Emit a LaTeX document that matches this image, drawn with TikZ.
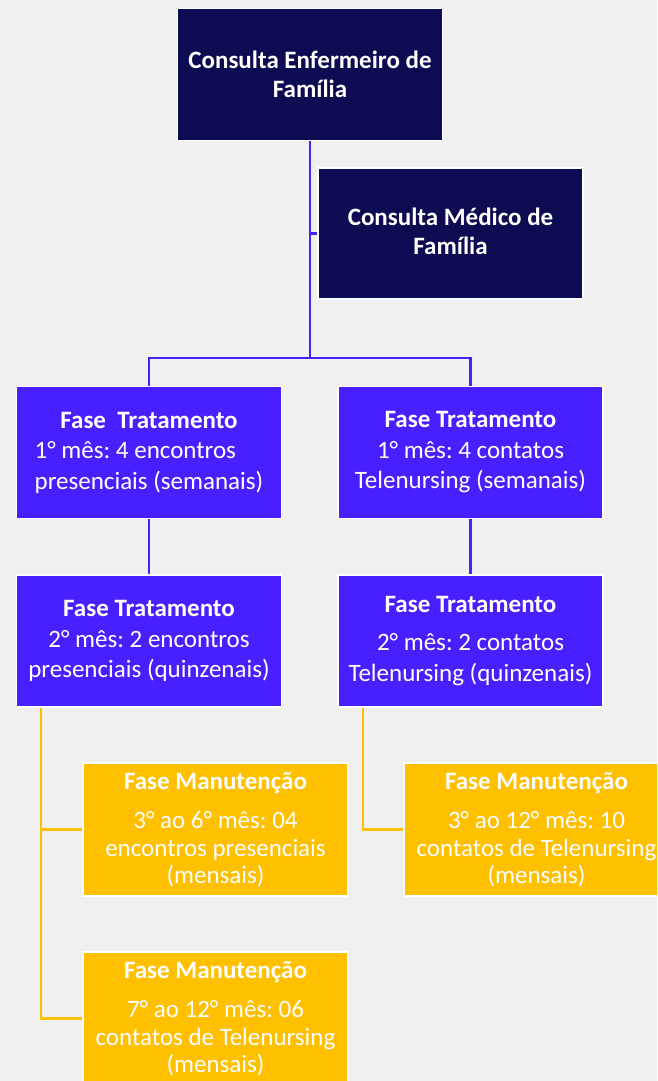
\documentclass[tikz,border=0pt]{standalone}
\usepackage{fontspec}
\setmainfont{Carlito}
\frenchspacing
\definecolor{bgcol}{HTML}{F0F0F0}
\definecolor{navyfill}{HTML}{0D0C52}
\definecolor{fasebl}{HTML}{4A1FFF}
\definecolor{fasegold}{HTML}{FFC000}
\tikzset{
  box/.style={draw=white, line width=1.5pt, text=white, align=center, inner sep=0pt,
    minimum width=265pt, minimum height=132pt},
  topbox/.style={box, fill=navyfill, font=\bfseries\fontsize{25}{29}\selectfont},
  tratbox/.style={box, fill=fasebl, font=\fontsize{25}{30.5}\selectfont},
  manbox/.style={box, fill=fasegold, minimum height=133pt, font=\fontsize{25}{27.5}\selectfont},
  link/.style={fasebl, line width=2.2pt},
  goldlink/.style={fasegold, line width=2.2pt}
}

\begin{document}
\begin{tikzpicture}[x=1pt, y=-1pt]
  \fill[bgcol] (0,0) rectangle (657,1081);
  \clip (0,0) rectangle (657,1081);
  \node[topbox] (enf) at (310,74.5) {Consulta Enfermeiro de\\Família};
  \node[topbox, minimum height=131pt] (med) at (450.5,233.5) {\raisebox{4pt}{Consulta Médico de}\\\raisebox{4pt}{Família}};
  \node[tratbox] (trtA1) at (149,452.5) {\textbf{Fase~~Tratamento}\\\rlap{1° mês: 4 encontros}\phantom{presenciais (semanais)}\\presenciais (semanais)};
  \node[tratbox] (trtB1) at (470.5,452.5) {\textbf{Fase Tratamento}\\1° mês: 4 contatos\\Telenursing (semanais)};
  \node[tratbox] (trtA2) at (149,641) {\textbf{Fase Tratamento}\\2° mês: 2 encontros\\presenciais (quinzenais)};
  \node[tratbox] (trtB2) at (470.5,641) {\textbf{Fase Tratamento}\\[8pt]2° mês: 2 contatos\\Telenursing (quinzenais)};
  \node[manbox] (manA1) at (215.5,829.5) {\textbf{Fase Manutenção}\\[12pt]3° ao 6° mês: 04\\encontros presenciais\\(mensais)};
  \node[manbox] (manA2) at (215.5,1018.5) {\textbf{Fase Manutenção}\\[12pt]7° ao 12° mês: 06\\contatos de Telenursing\\(mensais)};
  \node[manbox] (manB1) at (536.5,829.5) {\textbf{Fase Manutenção}\\[12pt]3° ao 12° mês: 10\\contatos de Telenursing\\(mensais)};
  \coordinate (split) at (310,358);
  \draw[link] (enf.south) -- (split);
  \draw[link] (enf.south |- med.west) -- (med.west);
  \draw[link] (split) -| (trtA1.north);
  \draw[link] (split) -| (trtB1.north);
  \draw[link] (trtA1.south) -- (trtA2.north);
  \draw[link] (trtB1.south) -- (trtB2.north);
  \draw[goldlink] ([xshift=25pt]trtA2.south west) |- (manA1.west);
  \draw[goldlink] ([xshift=25pt]trtA2.south west) |- (manA2.west);
  \draw[goldlink] ([xshift=26pt]trtB2.south west) |- (manB1.west);
\end{tikzpicture}
\end{document}
